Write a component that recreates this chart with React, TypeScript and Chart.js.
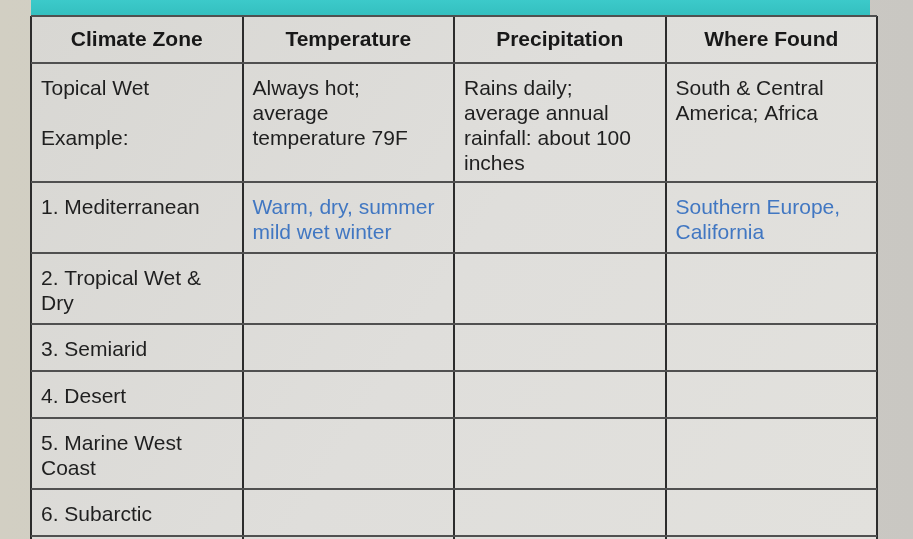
import React, { useEffect, useRef } from "react";
import { Chart, registerables } from "chart.js";

Chart.register(...registerables);

// ---- data ----
const columnHeaders = ["Climate Zone", "Temperature", "Precipitation", "Where Found"];

const climateZoneCells: string[][] = [
  ["Topical Wet", "", "Example:"],
  ["1. Mediterranean"],
  ["2. Tropical Wet &", "Dry"],
  ["3. Semiarid"],
  ["4. Desert"],
  ["5. Marine West", "Coast"],
  ["6. Subarctic"],
];

const temperatureCells: string[][] = [
  ["Always hot;", "average", "temperature 79F"],
  ["Warm, dry, summer", "mild wet winter"],
  [],
  [],
  [],
  [],
  [],
];

const precipitationCells: string[][] = [
  ["Rains daily;", "average annual", "rainfall: about 100", "inches"],
  [],
  [],
  [],
  [],
  [],
  [],
];

const whereFoundCells: string[][] = [
  ["South & Central", "America; Africa"],
  ["Southern Europe,", "California"],
  [],
  [],
  [],
  [],
  [],
];

// rows whose answers are written in blue (filled-in answers)
const blueAnswerRows = [1];

// ---- layout / style constants ----
const FONT_FAMILY = '"Liberation Sans", Arial, sans-serif';
const FONT_SIZE = 21;
const ROW_PAD = 23;
const ROW_LINE = 24;
const TEXT_LINE = 25;
const TEXT_TOP = 26;
const CELL_INSET = 10;

const bodyColumns = [climateZoneCells, temperatureCells, precipitationCells, whereFoundCells];

function rowLineCounts(): number[] {
  const counts = [1];
  for (let r = 0; r < climateZoneCells.length; r++) {
    counts.push(Math.max(1, ...bodyColumns.map((c) => c[r].length)));
  }
  return counts;
}

function rowBoundaries(): number[] {
  const b = [0];
  rowLineCounts().forEach((n) => b.push(b[b.length - 1] + ROW_PAD + ROW_LINE * n));
  return b;
}

const backgroundPlugin = {
  id: "photoBackground",
  beforeDraw(chart: any) {
    const { ctx, chartArea, width, height } = chart;
    ctx.save();
    const g = ctx.createLinearGradient(0, 0, width, 0);
    g.addColorStop(0, "#d2cfc3");
    g.addColorStop(0.5, "#cfcdc7");
    g.addColorStop(1, "#c9c7c2");
    ctx.fillStyle = g;
    ctx.fillRect(0, 0, width, height);

    const cg = ctx.createLinearGradient(chartArea.left, chartArea.top, chartArea.right, chartArea.bottom);
    cg.addColorStop(0, "#d8d7d3");
    cg.addColorStop(0.5, "#dfdedb");
    cg.addColorStop(1, "#e2e1dd");
    ctx.fillStyle = cg;
    ctx.fillRect(chartArea.left, chartArea.top, chartArea.right - chartArea.left, chartArea.bottom - chartArea.top);

    // teal strip above the table
    const tg = ctx.createLinearGradient(0, 0, 0, chartArea.top);
    tg.addColorStop(0, "#3ccaca");
    tg.addColorStop(1, "#34bfbf");
    ctx.fillStyle = tg;
    ctx.fillRect(chartArea.left, 0, chartArea.right - chartArea.left - 7, chartArea.top);
    ctx.restore();
  },
};

const textPlugin = {
  id: "tableText",
  afterDraw(chart: any) {
    const { ctx } = chart;
    const xs = chart.scales.x;
    const ys = chart.scales.y;
    const bounds = rowBoundaries();
    ctx.save();
    ctx.textBaseline = "middle";

    // header
    ctx.font = `bold ${FONT_SIZE}px ${FONT_FAMILY}`;
    ctx.fillStyle = "#181818";
    ctx.textAlign = "center";
    columnHeaders.forEach((h, c) => {
      const cx = (xs.getPixelForValue(c) + xs.getPixelForValue(c + 1)) / 2;
      const top = ys.getPixelForValue(bounds[0]);
      ctx.fillText(h, cx, top + 24);
    });

    // body
    ctx.font = `${FONT_SIZE}px ${FONT_FAMILY}`;
    ctx.textAlign = "left";
    bodyColumns.forEach((col, c) => {
      const left = xs.getPixelForValue(c);
      col.forEach((lines, r) => {
        const top = ys.getPixelForValue(bounds[r + 1]);
        const blue = blueAnswerRows.includes(r) && (c === 1 || c === 3);
        ctx.fillStyle = blue ? "#4177c2" : "#1f1f1f";
        lines.forEach((line, i) => {
          if (line) ctx.fillText(line, left + CELL_INSET, top + TEXT_TOP + i * TEXT_LINE);
        });
      });
    });
    ctx.restore();
  },
};

export default function App() {
  const ref = useRef<HTMLCanvasElement | null>(null);

  useEffect(() => {
    if (!ref.current) return;
    const bounds = rowBoundaries();
    const total = bounds[bounds.length - 1];
    const chart = new Chart(ref.current, {
      type: "scatter",
      data: { datasets: [] },
      options: {
        animation: false,
        responsive: false,
        layout: { padding: { left: 31, right: 36, top: 16, bottom: 0 } },
        plugins: { legend: { display: false }, tooltip: { enabled: false } },
        scales: {
          x: {
            type: "linear",
            min: 0,
            max: columnHeaders.length,
            afterBuildTicks: (s: any) => {
              s.ticks = columnHeaders.map((_, i) => ({ value: i })).concat([{ value: columnHeaders.length }]);
            },
            afterFit: (s: any) => {
              s.height = 0;
            },
            ticks: { display: false },
            grid: { color: "#2c2c2c", lineWidth: 2, drawTicks: false },
            border: { display: false },
          },
          y: {
            type: "linear",
            reverse: true,
            min: 0,
            max: total + 3,
            afterBuildTicks: (s: any) => {
              s.ticks = bounds.map((v) => ({ value: v }));
            },
            afterFit: (s: any) => {
              s.width = 0;
            },
            ticks: { display: false },
            grid: { color: "#505050", lineWidth: 2, drawTicks: false },
            border: { display: false },
          },
        },
      } as any,
      plugins: [backgroundPlugin, textPlugin],
    });
    return () => chart.destroy();
  }, []);

  return (
    <div style={{ position: "fixed", left: 0, top: 0, width: 913, height: 539 }}>
      <canvas ref={ref} width={913} height={539} style={{ display: "block" }} />
    </div>
  );
}
